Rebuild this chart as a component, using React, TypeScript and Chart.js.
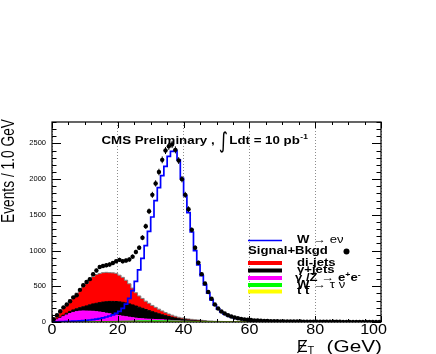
import React, { useEffect, useRef } from "react";
import { Chart, registerables } from "chart.js";

Chart.register(...registerables);

// ---- data (1 GeV bins, 0..100 GeV) ----
const wenu: number[] = [
  2, 3, 5, 6, 8, 10, 12, 14, 17, 20,
  24, 28, 33, 40, 48, 58, 70, 84, 100, 120,
  150, 190, 250, 330, 440, 570, 730, 890, 1070, 1270,
  1470, 1700, 1880, 2050, 2180, 2320, 2390, 2400, 2270, 2010,
  1770, 1530, 1260, 1000, 800, 650, 520, 405, 310, 235,
  180, 140, 110, 88, 72, 58, 48, 40, 34, 28,
  24, 21, 18, 16, 14, 12, 11, 10, 9, 8,
  7, 7, 6, 6, 5, 5, 5, 4, 4, 4,
  3, 3, 3, 3, 3, 3, 2, 2, 2, 2,
  2, 2, 2, 2, 1, 1, 1, 1, 1, 1,
];

const dijets: number[] = [
  15, 40, 74, 105, 132, 162, 191, 220, 250, 282,
  314, 350, 383, 403, 409, 412, 411, 403, 400, 394,
  373, 349, 319, 282, 236, 187, 158, 139, 117, 103,
  88, 76, 65, 54, 44, 36, 31, 25, 20, 19,
  17, 16, 15, 14, 13, 12, 10, 9, 7, 6,
  5, 5, 4, 4, 3, 3, 3, 2, 2, 2,
  2, 2, 2, 2, 1, 1, 1, 1, 1, 1,
  1, 1, 1, 1, 1, 1, 1, 0, 0, 0,
  0, 1, 0, 0, 1, 0, 0, 0, 1, 0,
  0, 0, 1, 0, 0, 0, 0, 1, 0, 0,
];

const gjets: number[] = [
  5, 10, 14, 20, 25, 30, 35, 40, 48, 58,
  72, 88, 103, 117, 131, 146, 161, 173, 183, 189,
  193, 195, 192, 186, 179, 169, 158, 146, 133, 120,
  107, 94, 82, 70, 60, 51, 43, 36, 30, 24,
  20, 17, 13, 10, 8, 6, 5, 3, 3, 2,
  1, 1, 1, 1, 1, 0, 0, 0, 0, 0,
  0, 0, 0, 0, 0, 0, 0, 0, 0, 0,
  0, 0, 0, 0, 0, 0, 0, 0, 0, 0,
  0, 0, 0, 0, 0, 0, 0, 0, 0, 0,
  0, 0, 0, 0, 0, 0, 0, 0, 0, 0,
];

const zee: number[] = [
  10, 30, 51, 74, 97, 116, 132, 143, 149, 152,
  150, 148, 145, 140, 135, 126, 117, 107, 97, 89,
  79, 70, 62, 54, 46, 39, 33, 29, 25, 22,
  19, 17, 15, 14, 11, 9, 7, 5, 3, 2,
  1, 1, 1, 1, 1, 1, 0, 0, 0, 0,
  0, 0, 0, 0, 0, 0, 0, 0, 0, 0,
  0, 0, 0, 0, 0, 0, 0, 0, 0, 0,
  0, 0, 0, 0, 0, 0, 0, 0, 0, 0,
  0, 0, 0, 0, 0, 0, 0, 0, 0, 0,
  0, 0, 0, 0, 0, 0, 0, 0, 0, 0,
];

const wtaunu: number[] = [
  0, 0, 1, 1, 1, 2, 2, 2, 3, 3,
  3, 4, 4, 5, 5, 6, 6, 7, 8, 8,
  9, 10, 11, 12, 13, 14, 15, 15, 16, 16,
  17, 17, 17, 16, 16, 15, 14, 13, 12, 10,
  9, 8, 7, 6, 5, 4, 4, 3, 3, 2,
  2, 2, 1, 1, 1, 1, 1, 1, 1, 0,
  0, 0, 0, 0, 0, 0, 0, 0, 0, 0,
  0, 0, 0, 0, 0, 0, 0, 0, 0, 0,
  0, 0, 0, 0, 0, 0, 0, 0, 0, 0,
  0, 0, 0, 0, 0, 0, 0, 0, 0, 0,
];

const ttbar: number[] = [
  0, 0, 0, 0, 0, 0, 0, 0, 0, 0,
  0, 0, 1, 0, 0, 1, 0, 1, 0, 1,
  1, 1, 1, 1, 1, 1, 1, 1, 1, 1,
  1, 1, 1, 1, 1, 1, 1, 1, 1, 1,
  1, 1, 1, 1, 1, 1, 1, 0, 1, 0,
  1, 0, 0, 1, 0, 0, 1, 0, 0, 0,
  0, 0, 0, 0, 0, 0, 0, 0, 0, 0,
  0, 0, 0, 0, 0, 0, 0, 0, 0, 0,
  0, 0, 0, 0, 0, 0, 0, 0, 0, 0,
  0, 0, 0, 0, 0, 0, 0, 0, 0, 0,
];

const signalPlusBkgd: number[] = [
  40, 95, 150, 205, 245, 290, 345, 375, 450, 515,
  560, 600, 670, 720, 770, 785, 795, 805, 825, 850,
  870, 850, 860, 875, 915, 980, 1040, 1180, 1340, 1550,
  1780, 1940, 2100, 2270, 2400, 2460, 2485, 2410, 2260, 2000,
  1780, 1580, 1290, 1040, 830, 670, 540, 420, 325, 245,
  190, 148, 118, 94, 77, 63, 52, 44, 37, 31,
  27, 23, 20, 18, 16, 14, 12, 11, 10, 9,
  8, 8, 7, 7, 6, 6, 5, 5, 5, 4,
  4, 4, 3, 3, 3, 3, 3, 3, 2, 2,
  2, 2, 2, 2, 2, 2, 1, 1, 1, 1,
];

const xTickLabels: number[] = [0, 20, 40, 60, 80, 100];
const yTickLabels: number[] = [0, 500, 1000, 1500, 2000, 2500];
const X_MIN = 0;
const X_MAX = 100;
const Y_MAX = 2800;

const FONT = "'Liberation Sans', Arial, Helvetica, sans-serif";

type TxtOpts = { sx?: number; align?: "left" | "center" | "right"; baseline?: CanvasTextBaseline; color?: string };

function txt(ctx: CanvasRenderingContext2D, s: string, x: number, y: number, font: string, o: TxtOpts = {}): number {
  ctx.save();
  ctx.font = font;
  ctx.fillStyle = o.color || "#000";
  ctx.textBaseline = o.baseline || "alphabetic";
  ctx.textAlign = "left";
  const sx = o.sx || 1;
  const w = ctx.measureText(s).width * sx;
  let x0 = x;
  if (o.align === "center") x0 = x - w / 2;
  else if (o.align === "right") x0 = x - w;
  ctx.translate(x0, y);
  ctx.scale(sx, 1);
  ctx.fillText(s, 0, 0);
  ctx.restore();
  return w;
}

function stepPoints(arr: number[]) {
  const pts = arr.map((v, i) => ({ x: X_MIN + i, y: v }));
  pts.push({ x: X_MIN + arr.length, y: arr[arr.length - 1] });
  return pts;
}

const decorPlugin = {
  id: "rootDecor",
  afterDatasetsDraw(chart: any) {
    const ctx: CanvasRenderingContext2D = chart.ctx;
    const xs = chart.scales.x;
    const ys = chart.scales.y;
    const ca = chart.chartArea;
    ctx.save();
    ctx.beginPath();
    ctx.rect(ca.left, ca.top, ca.right - ca.left, ca.bottom - ca.top);
    ctx.clip();
    ctx.strokeStyle = "#000";
    ctx.lineWidth = 1;
    signalPlusBkgd.forEach((v, i) => {
      const cx = xs.getPixelForValue(X_MIN + i + 0.5);
      const e = Math.sqrt(v);
      ctx.beginPath();
      ctx.moveTo(cx, ys.getPixelForValue(v - e));
      ctx.lineTo(cx, ys.getPixelForValue(v + e));
      const cy = ys.getPixelForValue(v);
      ctx.moveTo(xs.getPixelForValue(X_MIN + i), cy);
      ctx.lineTo(xs.getPixelForValue(X_MIN + i + 1), cy);
      ctx.stroke();
    });
    ctx.restore();
  },
  afterDraw(chart: any) {
    const ctx: CanvasRenderingContext2D = chart.ctx;
    const xs = chart.scales.x;
    const ys = chart.scales.y;
    const { left, right, top, bottom } = chart.chartArea;

    // frame
    ctx.save();
    ctx.strokeStyle = "#000";
    ctx.lineWidth = 1.2;
    ctx.strokeRect(left, top, right - left, bottom - top);

    // ticks (inside)
    ctx.lineWidth = 1;
    ctx.beginPath();
    for (let v = X_MIN; v <= X_MAX; v += 5) {
      const px = Math.round(xs.getPixelForValue(v)) + 0.5;
      const len = v % 20 === 0 ? 6 : 3;
      ctx.moveTo(px, bottom);
      ctx.lineTo(px, bottom - len);
      ctx.moveTo(px, top);
      ctx.lineTo(px, top + len);
    }
    for (let v = 0; v <= Y_MAX; v += 100) {
      const py = Math.round(ys.getPixelForValue(v)) + 0.5;
      const len = v % 500 === 0 ? 9 : 4.5;
      ctx.moveTo(left, py);
      ctx.lineTo(left + len, py);
      ctx.moveTo(right, py);
      ctx.lineTo(right - len, py);
    }
    ctx.stroke();
    ctx.restore();

    // tick labels
    xTickLabels.forEach((v, i) => {
      const px = xs.getPixelForValue(v);
      if (i === xTickLabels.length - 1) {
        txt(ctx, String(v), px + 6, 333.5, `14px ${FONT}`, { sx: 1.15, align: "right" });
      } else {
        txt(ctx, String(v), px, 333.5, `14px ${FONT}`, { sx: 1.15, align: "center" });
      }
    });
    yTickLabels.forEach((v) => {
      const py = ys.getPixelForValue(v);
      txt(ctx, String(v), left - 6, py, `7.5px ${FONT}`, { align: "right", baseline: "middle" });
    });

    // y-axis title (rotated, condensed)
    ctx.save();
    ctx.translate(14, 223);
    ctx.rotate(-Math.PI / 2);
    ctx.font = `19px ${FONT}`;
    const ytitle = "Events / 1.0 GeV";
    const yw = ctx.measureText(ytitle).width;
    ctx.scale(104 / yw, 1);
    ctx.fillStyle = "#000";
    ctx.textBaseline = "alphabetic";
    ctx.fillText(ytitle, 0, 0);
    ctx.restore();

    // x-axis title: missing E_T (GeV)
    const xtY = 352;
    txt(ctx, "E", 297, xtY, `16px ${FONT}`);
    ctx.save();
    ctx.strokeStyle = "#000";
    ctx.lineWidth = 1.2;
    ctx.beginPath();
    ctx.moveTo(297.5, xtY + 1);
    ctx.lineTo(306.5, xtY - 12);
    ctx.stroke();
    ctx.restore();
    txt(ctx, "T", 307.5, 354, `11px ${FONT}`);
    txt(ctx, " (GeV)", right + 1, xtY, `16px ${FONT}`, { sx: 1.3, align: "right" });

    // title
    const tb = `bold 10px ${FONT}`;
    let tx = 101.5;
    const tY = 144;
    tx += txt(ctx, "CMS Preliminary , ", tx, tY, tb, { sx: 1.33 });
    txt(ctx, "\u222B", tx + 0.5, tY + 4, `22px 'DejaVu Sans', sans-serif`, { sx: 0.8 });
    tx += 11;
    tx += txt(ctx, "Ldt = 10 pb", tx, tY, tb, { sx: 1.33 });
    txt(ctx, "-1", tx + 0.5, tY - 5, `bold 7px ${FONT}`, { sx: 1.2 });

    // legend
    const lx0 = 248;
    const lx1 = 282;
    const ltx = 297;
    const lb = `bold 10.5px ${FONT}`;
    const ln = `10.5px ${FONT}`;
    const mid: TxtOpts = { sx: 1.25, baseline: "middle" };

    let ry = 240.5;
    ctx.save();
    ctx.strokeStyle = "#0000ff";
    ctx.lineWidth = 1.5;
    ctx.beginPath();
    ctx.moveTo(lx0, ry);
    ctx.lineTo(lx1, ry);
    ctx.stroke();
    ctx.restore();
    let x = ltx;
    x += txt(ctx, "W", x, ry, lb, mid);
    x += txt(ctx, " \u2192 e\u03BD", x, ry, ln, mid);

    ry = 251.5;
    txt(ctx, "Signal+Bkgd", lx0, ry, lb, mid);
    ctx.save();
    ctx.fillStyle = "#000";
    ctx.beginPath();
    ctx.arc(346.5, ry, 3, 0, Math.PI * 2);
    ctx.fill();
    ctx.restore();

    const bars: { color: string; y: number }[] = [
      { color: "#ff0000", y: 263 },
      { color: "#000000", y: 270.5 },
      { color: "#ff00ff", y: 278 },
      { color: "#00ff00", y: 285 },
      { color: "#ffff00", y: 291.5 },
    ];
    bars.forEach((b) => {
      ctx.fillStyle = b.color;
      ctx.fillRect(lx0, b.y - 2, lx1 - lx0, 4);
    });
    txt(ctx, "di-jets", ltx, 263, lb, mid);
    txt(ctx, "\u03B3+jets", ltx, 270.5, lb, mid);
    x = ltx - 2;
    x += txt(ctx, "\u03B3 /Z", x, 278, lb, mid);
    x += txt(ctx, " \u2192 ", x, 278, ln, mid);
    x += txt(ctx, "e", x, 278, lb, mid);
    x += txt(ctx, "+", x, 275, `bold 7px ${FONT}`, mid);
    x += txt(ctx, "e", x, 278, lb, mid);
    txt(ctx, "-", x, 275, `bold 7px ${FONT}`, mid);
    x = ltx;
    x += txt(ctx, "W", x, 285, lb, mid);
    txt(ctx, " \u2192 \u03C4 \u03BD", x, 285, ln, mid);
    x = ltx;
    x += txt(ctx, "t ", x, 291.5, lb, mid);
    const tw = txt(ctx, "t", x, 291.5, lb, mid);
    ctx.save();
    ctx.strokeStyle = "#000";
    ctx.lineWidth = 1;
    ctx.beginPath();
    ctx.moveTo(x - 0.5, 286.5);
    ctx.lineTo(x + tw + 0.5, 286.5);
    ctx.stroke();
    ctx.restore();
  },
};

export default function App() {
  const ref = useRef<HTMLCanvasElement>(null);

  useEffect(() => {
    const canvas = ref.current;
    if (!canvas) return;

    const histBase = {
      type: "line" as const,
      stepped: true,
      pointRadius: 0,
      borderWidth: 1,
      stack: "bkg",
    };

    const chart = new Chart(canvas, {
      type: "line",
      data: {
        datasets: [
          {
            label: "Signal+Bkgd",
            data: signalPlusBkgd.map((v, i) => ({ x: X_MIN + i + 0.5, y: v })),
            showLine: false,
            pointRadius: 2.2,
            pointBackgroundColor: "#000",
            pointBorderWidth: 0,
            stack: "data",
            fill: false,
          } as any,
          {
            label: "W \u2192 e\u03BD",
            data: stepPoints(wenu),
            stepped: true,
            borderColor: "#0000ff",
            borderWidth: 1.7,
            pointRadius: 0,
            fill: false,
            stack: "sig",
          } as any,
          { ...histBase, label: "t t", data: stepPoints(ttbar), borderColor: "#ffff00", backgroundColor: "#ffff00", fill: "origin" } as any,
          { ...histBase, label: "W \u2192 \u03C4\u03BD", data: stepPoints(wtaunu), borderColor: "#00ff00", backgroundColor: "#00ff00", fill: "-1" } as any,
          { ...histBase, label: "\u03B3/Z \u2192 e+e-", data: stepPoints(zee), borderColor: "#ff00ff", backgroundColor: "#ff00ff", fill: "-1" } as any,
          { ...histBase, label: "\u03B3+jets", data: stepPoints(gjets), borderColor: "#000000", backgroundColor: "#000000", fill: "-1" } as any,
          { ...histBase, label: "di-jets", data: stepPoints(dijets), borderColor: "#808080", backgroundColor: "#ff0000", fill: "-1" } as any,
        ],
      },
      options: {
        animation: false,
        responsive: false,
        devicePixelRatio: 1,
        events: [],
        layout: { padding: { top: 122, right: 55, left: 0, bottom: 0 } },
        plugins: { legend: { display: false }, tooltip: { enabled: false }, title: { display: false } },
        elements: { line: { tension: 0 } },
        scales: {
          x: {
            type: "linear",
            min: X_MIN,
            max: X_MAX,
            ticks: { display: false, stepSize: 20 },
            grid: { color: "#8c8c8c", lineWidth: 1, drawTicks: false },
            border: { display: false, dash: [1, 2] },
            afterFit: (s: any) => {
              s.height = 32;
            },
          },
          y: {
            type: "linear",
            stacked: true,
            min: 0,
            max: Y_MAX,
            ticks: { display: false, stepSize: 500 },
            grid: { color: "#8c8c8c", lineWidth: 1, drawTicks: false },
            border: { display: false, dash: [1, 2] },
            afterBuildTicks: (s: any) => {
              s.ticks = s.ticks.filter((t: any) => t.value % 500 === 0);
            },
            afterFit: (s: any) => {
              s.width = 52;
            },
          },
        },
      } as any,
      plugins: [decorPlugin],
    });

    return () => chart.destroy();
  }, []);

  return (
    <div style={{ position: "fixed", left: 0, top: 0, width: 436, height: 354, background: "#fff" }}>
      <canvas ref={ref} width={436} height={354} style={{ display: "block", width: 436, height: 354 }} />
    </div>
  );
}
